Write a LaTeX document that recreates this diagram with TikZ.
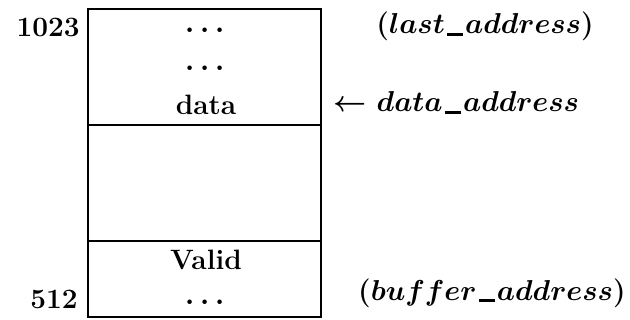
\documentclass[tikz,border=0pt]{standalone}
\newcommand{\ulbar}{\mbox{\kern0.08em\rule[-1.2pt]{8pt}{1.5pt}\kern0.08em}}
\begin{document}
\begin{tikzpicture}[x=0.5pt,y=-0.5pt,
  lbl/.style={inner sep=0pt,font=\fontsize{14}{17}\selectfont\bfseries\boldmath},
  rlbl/.style={inner sep=0pt,font=\fontsize{13.6}{17}\selectfont\bfseries\boldmath},
  boxline/.style={line width=1.4pt}]
\useasboundingbox (0,0) rectangle (630,320);
% memory block
\coordinate (tl) at (88,9);
\coordinate (br) at (321,317);
\draw[boxline] (tl) rectangle (br);
\coordinate (d1l) at (88,125);
\coordinate (d1r) at (321,125);
\coordinate (d2l) at (88,241);
\coordinate (d2r) at (321,241);
\draw[boxline] (d1l) -- (d1r);
\draw[boxline] (d2l) -- (d2r);
% left addresses
\node[lbl,anchor=base east] (a1023) at (80,37) {1023};
\node[lbl,anchor=base east] (a512) at (78,308) {512};
% box contents
\node[lbl,anchor=base] (dots1) at (205,38) {$\cdots$};
\node[lbl,anchor=base] (dots2) at (205,76) {$\cdots$};
\node[lbl,anchor=base] (data) at (206,115) {data};
\node[lbl,anchor=base] (valid) at (206,269) {Valid};
\node[lbl,anchor=base] (dots3) at (205,309) {$\cdots$};
% right labels
\node[rlbl,anchor=base west] (last) at (376,34) {$(last\ulbar address)$};
\node[rlbl,anchor=base west] (daddr) at (333,112) {$\leftarrow$ $data\ulbar address$};
\node[rlbl,anchor=base east] (buf) at (626,300) {$(buffer\ulbar address)$};
\end{tikzpicture}
\end{document}
